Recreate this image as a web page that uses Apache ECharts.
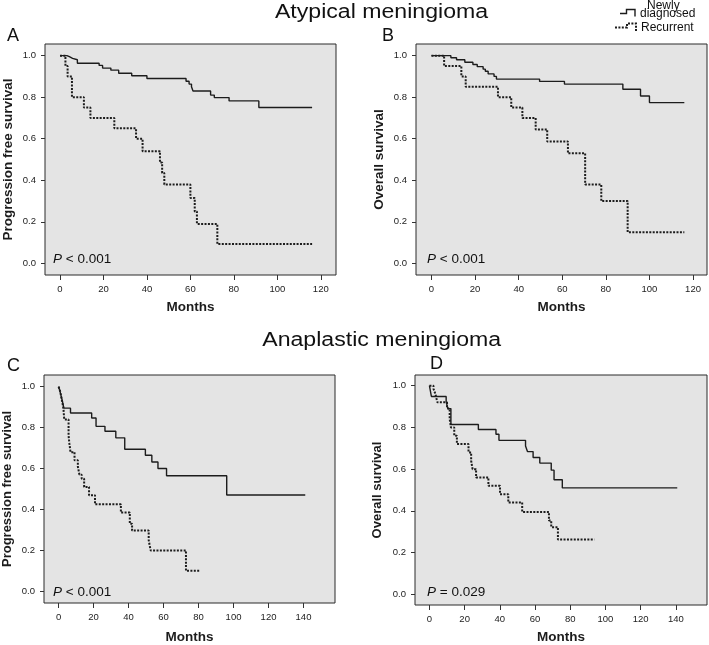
<!DOCTYPE html>
<html><head><meta charset="utf-8">
<script src="https://cdn.jsdelivr.net/npm/echarts@6/dist/echarts.min.js"></script>
<style>html,body{margin:0;padding:0;background:#fff}#c{width:709px;height:645px}</style>
</head><body><div id="c"></div>
<script>
// ---- tick labels ----
const xTicksAB = [0, 20, 40, 60, 80, 100, 120];
const xTicksCD = [0, 20, 40, 60, 80, 100, 120, 140];
const yTicks = [0, 0.2, 0.4, 0.6, 0.8, 1.0];

// ---- text ----
const titleTop = 'Atypical meningioma';
const titleBottom = 'Anaplastic meningioma';
const panelLetters = ['A', 'B', 'C', 'D'];
const yNames = ['Progression free survival', 'Overall survival', 'Progression free survival', 'Overall survival'];
const xName = 'Months';
const pTexts = ['< 0.001', '< 0.001', '< 0.001', '= 0.029'];
const legendNames = ['Newly diagnosed', 'Recurrent'];

// ---- A: Atypical, progression free survival ----
const aNewT = [0, 3.2, 4.3, 5.8, 8, 18, 19.6, 23.4, 27, 33, 40, 58, 59.4, 60.5, 61.2, 69.3, 71, 77.8, 91.5, 116];
const aNewS = [1, 0.995, 0.987, 0.98, 0.963, 0.953, 0.94, 0.93, 0.915, 0.903, 0.89, 0.877, 0.863, 0.85, 0.83, 0.81, 0.798, 0.782, 0.75, 0.75];
const aRecT = [0, 2.5, 3.5, 5.5, 11, 14, 25, 35, 38, 46, 47, 48, 60, 62, 63, 72.4, 116];
const aRecS = [1, 0.95, 0.90, 0.80, 0.75, 0.70, 0.65, 0.60, 0.54, 0.485, 0.435, 0.38, 0.315, 0.25, 0.19, 0.093, 0.093];

// ---- B: Atypical, overall survival ----
const bNewT = [0, 8.9, 11.5, 15.3, 19, 21, 23.7, 24.7, 26, 28.7, 29.8, 49.6, 61, 87.8, 95.9, 100, 116];
const bNewS = [1, 0.99, 0.98, 0.968, 0.957, 0.947, 0.935, 0.925, 0.912, 0.9, 0.887, 0.876, 0.863, 0.838, 0.806, 0.774, 0.774];
const bRecT = [0, 5.8, 13.7, 15.7, 30.5, 36.6, 41.7, 47.8, 53.1, 62.6, 70.5, 77.9, 90, 116];
const bRecS = [1, 0.95, 0.90, 0.85, 0.80, 0.75, 0.70, 0.645, 0.587, 0.53, 0.38, 0.30, 0.15, 0.15];

// ---- C: Anaplastic, progression free survival ----
const cNewT = [0, 1, 2, 3, 6.8, 18.9, 21.4, 26.5, 32.7, 37.8, 49.6, 53.3, 56.8, 61.7, 96.1, 141];
const cNewS = [1, 0.97, 0.935, 0.895, 0.871, 0.847, 0.806, 0.782, 0.75, 0.694, 0.665, 0.632, 0.6, 0.565, 0.471, 0.471];
const cRecT = [0, 0.8, 1.5, 2.2, 2.8, 3.2, 5.7, 6.2, 6.8, 9.1, 11, 11.9, 13.2, 14.6, 17.4, 20.8, 35.6, 40.7, 42, 51.5, 52.6, 72.8, 80.8];
const cRecS = [1, 0.98, 0.95, 0.92, 0.89, 0.84, 0.76, 0.72, 0.68, 0.64, 0.61, 0.57, 0.55, 0.51, 0.47, 0.425, 0.385, 0.33, 0.297, 0.25, 0.2, 0.1, 0.1];

// ---- D: Anaplastic, overall survival ----
const dNewT = [0, 1.1, 9.5, 10.5, 12.2, 27.8, 37.8, 39.5, 54.6, 55.7, 58.9, 62.7, 69.2, 70.8, 75.5, 140.8];
const dNewS = [1, 0.948, 0.922, 0.89, 0.814, 0.79, 0.767, 0.738, 0.711, 0.684, 0.656, 0.629, 0.595, 0.549, 0.51, 0.51];
const dRecT = [0, 2.3, 3.4, 4.5, 10, 11.5, 12.2, 14.1, 15.6, 22.2, 23.7, 24.5, 26.5, 33.5, 40.1, 44.8, 52.7, 67.9, 69.2, 73, 93.7];
const dRecS = [1, 0.985, 0.96, 0.92, 0.89, 0.84, 0.80, 0.76, 0.72, 0.68, 0.64, 0.60, 0.56, 0.52, 0.48, 0.44, 0.395, 0.354, 0.322, 0.263, 0.263];

function pairs(t, s) { return t.map((x, i) => [x, s[i]]); }

const FONT = '"Liberation Sans", Arial, Helvetica, sans-serif';
const INK = '#1c1c1c';

const grids = [
  { left: 44, top: 44, width: 292, height: 231 },
  { left: 416, top: 44, width: 291, height: 231 },
  { left: 42, top: 375, width: 293, height: 230 },
  { left: 415, top: 375, width: 292, height: 232 }
];
const xRanges = [[-6.9, 127], [-7.1, 126.4], [-8.35, 158], [-8.2, 157.7]];
const yRanges = [[-0.056, 1.056], [-0.056, 1.056], [-0.057, 1.057], [-0.051, 1.051]];
const xNameGaps = [25, 25, 27, 25];
const yNameGaps = [30, 30, 30, 31];
const yNameSizes = [13.5, 13.5, 13, 13];

const series = [];
const panels = [[aNewT, aNewS, aRecT, aRecS], [bNewT, bNewS, bRecT, bRecS], [cNewT, cNewS, cRecT, cRecS], [dNewT, dNewS, dRecT, dRecS]];
panels.forEach((p, i) => {
  series.push({ type: 'line', name: legendNames[0], xAxisIndex: i, yAxisIndex: i, step: 'end', symbol: 'none',
    data: pairs(p[0], p[1]), lineStyle: { color: INK, width: 1.4 }, silent: true });
  series.push({ type: 'line', name: legendNames[1], xAxisIndex: i, yAxisIndex: i, step: 'end', symbol: 'none',
    data: pairs(p[2], p[3]), lineStyle: { color: INK, width: 2, type: [2, 1.4] }, silent: true });
});

const xAxis = grids.map((g, i) => ({
  type: 'value', gridIndex: i, min: xRanges[i][0], max: xRanges[i][1],
  name: xName, nameLocation: 'middle', nameGap: xNameGaps[i],
  nameTextStyle: { fontFamily: FONT, fontWeight: 'bold', fontSize: 13.5, color: INK },
  axisLine: { show: false, onZero: false }, splitLine: { show: false },
  axisTick: { show: true, length: 5, lineStyle: { color: '#333', width: 1 }, customValues: i < 2 ? xTicksAB : xTicksCD },
  axisLabel: { show: true, margin: 9, fontSize: 9.5, color: '#222', fontFamily: FONT, customValues: i < 2 ? xTicksAB : xTicksCD }
}));
const yAxis = grids.map((g, i) => ({
  type: 'value', gridIndex: i, min: yRanges[i][0], max: yRanges[i][1],
  name: yNames[i], nameLocation: 'middle', nameGap: yNameGaps[i],
  nameTextStyle: { fontFamily: FONT, fontWeight: 'bold', fontSize: yNameSizes[i], color: INK },
  axisLine: { show: false, onZero: false }, splitLine: { show: false },
  axisTick: { show: true, length: 4, lineStyle: { color: '#333', width: 1 }, customValues: yTicks },
  axisLabel: { show: true, margin: 9, fontSize: 9.5, color: '#222', fontFamily: FONT, customValues: yTicks,
    formatter: v => v.toFixed(1) }
}));

const graphic = [];
// Titles
[[titleTop, 381.5, 13], [titleBottom, 381.7, 340.5]].forEach(([t, x, y]) => {
  graphic.push({ type: 'text', x: x, y: y, scaleX: 1.185, silent: true,
    style: { text: t, fontSize: 19.5, fontFamily: FONT, fill: '#111', align: 'center', verticalAlign: 'middle' } });
});
// Panel letters
[[7, 36], [382, 36], [7, 366], [430, 364]].forEach(([x, y], i) => {
  graphic.push({ type: 'text', x: x, y: y, silent: true,
    style: { text: panelLetters[i], fontSize: 18, fontFamily: FONT, fill: '#111', align: 'left', verticalAlign: 'middle' } });
});
// P values
[[53, 259.5], [427, 259.5], [53, 592], [427, 592]].forEach(([x, y], i) => {
  graphic.push({ type: 'text', x: x, y: y, silent: true,
    style: { text: '{i|P} ' + pTexts[i], fontSize: 13.5, fontFamily: FONT, fill: '#111', align: 'left', verticalAlign: 'middle',
      rich: { i: { fontStyle: 'italic', fontSize: 13.5, fontFamily: FONT, fill: '#111' } } } });
});
// Legend
graphic.push({ type: 'text', x: 647, y: 5.5, silent: true,
  style: { text: 'Newly', fontSize: 12, fontFamily: FONT, fill: '#111', verticalAlign: 'middle' } });
graphic.push({ type: 'text', x: 640, y: 14, silent: true,
  style: { text: 'diagnosed', fontSize: 12, fontFamily: FONT, fill: '#111', verticalAlign: 'middle' } });
graphic.push({ type: 'text', x: 641, y: 27.5, silent: true,
  style: { text: legendNames[1], fontSize: 12, fontFamily: FONT, fill: '#111', verticalAlign: 'middle' } });
graphic.push({ type: 'polyline', silent: true,
  shape: { points: [[620, 13.5], [626.5, 13.5], [626.5, 9.5], [635, 9.5], [635, 16.5]] },
  style: { stroke: INK, lineWidth: 1.4, fill: null } });
graphic.push({ type: 'polyline', silent: true,
  shape: { points: [[615, 27.5], [627, 27.5], [627, 23.5], [636, 23.5], [636, 31.5]] },
  style: { stroke: INK, lineWidth: 2, lineDash: [2, 1.4], fill: null } });

const chart = echarts.init(document.getElementById('c'), null, { renderer: 'canvas' });
chart.setOption({
  animation: false,
  backgroundColor: '#ffffff',
  grid: grids.map(g => Object.assign({ show: true, backgroundColor: '#e4e4e4', borderColor: '#2a2a2a', borderWidth: 1, containLabel: false }, g)),
  xAxis: xAxis,
  yAxis: yAxis,
  series: series,
  graphic: graphic
});
</script></body></html>
